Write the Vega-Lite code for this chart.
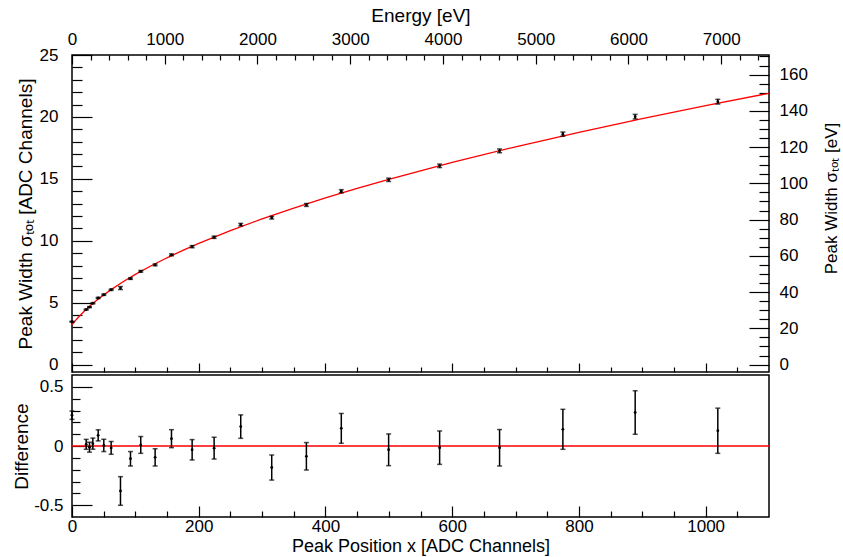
{
  "$schema": "https://vega.github.io/schema/vega-lite/v6.json",
  "padding": {"left": 11, "top": 5, "right": 0, "bottom": 1},
  "background": "white",
  "config": {
    "font": "Liberation Sans",
    "view": {"stroke": "black", "strokeWidth": 1.5},
    "axis": {
      "grid": false, "domain": false,
      "labelFont": "Liberation Sans", "titleFont": "Liberation Sans",
      "labelFontSize": 17, "titleFontSize": 19, "titleFontWeight": "normal",
      "labelColor": "black", "titleColor": "black", "tickColor": "black",
      "tickWidth": 1.2, "labelFlush": false, "labelOverlap": false
    }
  },
  "datasets": {
    "pts": [
      {"x": 0, "y": 3.46, "e": 0.035, "r": 0.26},
      {"x": 22.4, "y": 4.44, "e": 0.042, "r": 0.014},
      {"x": 27.6, "y": 4.64, "e": 0.042, "r": -0.01},
      {"x": 32.9, "y": 4.95, "e": 0.047, "r": 0.02},
      {"x": 41.3, "y": 5.38, "e": 0.047, "r": 0.09},
      {"x": 50.2, "y": 5.64, "e": 0.052, "r": 0.005},
      {"x": 61.8, "y": 6.04, "e": 0.054, "r": -0.016},
      {"x": 76.5, "y": 6.18, "e": 0.121, "r": -0.38},
      {"x": 92.3, "y": 6.94, "e": 0.061, "r": -0.108},
      {"x": 108.5, "y": 7.53, "e": 0.071, "r": 0.009},
      {"x": 131.2, "y": 8.05, "e": 0.073, "r": -0.096},
      {"x": 157, "y": 8.86, "e": 0.076, "r": 0.062},
      {"x": 189.6, "y": 9.52, "e": 0.086, "r": -0.032},
      {"x": 224.3, "y": 10.28, "e": 0.092, "r": -0.018},
      {"x": 266.3, "y": 11.30, "e": 0.099, "r": 0.164},
      {"x": 315.2, "y": 11.86, "e": 0.106, "r": -0.182},
      {"x": 369.9, "y": 12.89, "e": 0.116, "r": -0.087},
      {"x": 425, "y": 14.00, "e": 0.126, "r": 0.149},
      {"x": 499.7, "y": 14.92, "e": 0.134, "r": -0.032},
      {"x": 580.2, "y": 16.05, "e": 0.141, "r": -0.014},
      {"x": 674.8, "y": 17.26, "e": 0.154, "r": -0.015},
      {"x": 774.7, "y": 18.61, "e": 0.169, "r": 0.141},
      {"x": 888.8, "y": 20.02, "e": 0.184, "r": 0.283},
      {"x": 1019.2, "y": 21.23, "e": 0.191, "r": 0.129}
    ],
    "fit": [
      {"x": 0, "f": 3.209}, {"x": 5, "f": 3.526}, {"x": 10, "f": 3.817},
      {"x": 20, "f": 4.341}, {"x": 30, "f": 4.807}, {"x": 40, "f": 5.233},
      {"x": 50, "f": 5.626}, {"x": 60, "f": 5.993}, {"x": 80, "f": 6.668},
      {"x": 100, "f": 7.280}, {"x": 125, "f": 7.980}, {"x": 150, "f": 8.623},
      {"x": 175, "f": 9.221}, {"x": 200, "f": 9.783}, {"x": 250, "f": 10.819},
      {"x": 300, "f": 11.764}, {"x": 350, "f": 12.639}, {"x": 400, "f": 13.457},
      {"x": 450, "f": 14.228}, {"x": 500, "f": 14.960}, {"x": 600, "f": 16.325},
      {"x": 700, "f": 17.584}, {"x": 800, "f": 18.759}, {"x": 900, "f": 19.865},
      {"x": 1000, "f": 20.912}, {"x": 1100, "f": 21.909}
    ],
    "ev": [{"E": 0, "W": 0}],
    "zero": [{"z": 0}]
  },
  "spacing": 0,
  "vconcat": [
    {
      "width": 697,
      "height": 317,
      "resolve": {"scale": {"x": "independent", "y": "independent"}},
      "layer": [
        {
          "data": {"name": "fit"},
          "mark": {"type": "line", "color": "#ff0000", "strokeWidth": 1.3, "clip": true},
          "encoding": {
            "x": {"field": "x", "type": "quantitative", "scale": {"domain": [0, 1100], "nice": false, "zero": false},
                  "axis": {"orient": "bottom", "labels": false, "title": null, "values": [0, 200, 400, 600, 800, 1000], "tickSize": -9}},
            "y": {"field": "f", "type": "quantitative", "scale": {"domain": [-0.6, 25], "nice": false, "zero": false},
                  "axis": {"orient": "left", "ticks": false, "values": [0, 5, 10, 15, 20, 25], "format": "d", "labelPadding": 14,
                           "title": "Peak Width σₜₒₜ [ADC Channels]", "titlePadding": 4}}
          }
        },
        {
          "data": {"name": "pts"},
          "mark": {"type": "errorbar", "ticks": {"size": 5}, "color": "black", "thickness": 1.5},
          "encoding": {
            "x": {"field": "x", "type": "quantitative", "scale": {"domain": [0, 1100], "nice": false, "zero": false},
                  "axis": {"orient": "bottom", "labels": false, "title": null, "values": [50, 100, 150, 250, 300, 350, 450, 500, 550, 650, 700, 750, 850, 900, 950, 1050], "tickSize": -5}},
            "y": {"field": "y", "type": "quantitative", "scale": {"domain": [-0.6, 25], "nice": false, "zero": false},
                  "axis": {"orient": "left", "labels": false, "title": null, "values": [0, 5, 10, 15, 20, 25], "tickSize": -20}},
            "yError": {"field": "e"}
          }
        },
        {
          "data": {"name": "pts"},
          "mark": {"type": "point", "filled": true, "size": 8, "color": "black", "opacity": 1},
          "encoding": {
            "x": {"field": "x", "type": "quantitative", "scale": {"domain": [0, 1100], "nice": false, "zero": false}, "axis": null},
            "y": {"field": "y", "type": "quantitative", "scale": {"domain": [-0.6, 25], "nice": false, "zero": false},
                  "axis": {"orient": "left", "labels": false, "title": null, "values": [1, 2, 3, 4, 6, 7, 8, 9, 11, 12, 13, 14, 16, 17, 18, 19, 21, 22, 23, 24], "tickSize": -10}}
          }
        },
        {
          "data": {"name": "ev"},
          "mark": {"type": "point", "opacity": 0},
          "encoding": {
            "x": {"field": "E", "type": "quantitative", "scale": {"domain": [0, 7515], "nice": false, "zero": false},
                  "axis": {"orient": "top", "ticks": false, "values": [0, 1000, 2000, 3000, 4000, 5000, 6000, 7000], "format": "d", "labelPadding": 7,
                           "title": "Energy [eV]", "titlePadding": 5}},
            "y": {"field": "W", "type": "quantitative", "scale": {"domain": [-4.1, 170.8], "nice": false, "zero": false},
                  "axis": {"orient": "right", "ticks": false, "values": [0, 20, 40, 60, 80, 100, 120, 140, 160], "format": "d", "labelPadding": 10,
                           "title": "Peak Width σₜₒₜ [eV]", "titleAngle": 270, "titleBaseline": "top", "titleFontSize": 17, "titleY": 143, "titlePadding": 16}}
          }
        },
        {
          "data": {"name": "ev"},
          "mark": {"type": "point", "opacity": 0},
          "encoding": {
            "x": {"field": "E", "type": "quantitative", "scale": {"domain": [0, 7515], "nice": false, "zero": false},
                  "axis": {"orient": "top", "labels": false, "title": null, "values": [0, 1000, 2000, 3000, 4000, 5000, 6000, 7000], "tickSize": -9}},
            "y": {"field": "W", "type": "quantitative", "scale": {"domain": [-4.1, 170.8], "nice": false, "zero": false},
                  "axis": {"orient": "right", "labels": false, "title": null, "values": [0, 20, 40, 60, 80, 100, 120, 140, 160], "tickSize": -20}}
          }
        },
        {
          "data": {"name": "ev"},
          "mark": {"type": "point", "opacity": 0},
          "encoding": {
            "x": {"field": "E", "type": "quantitative", "scale": {"domain": [0, 7515], "nice": false, "zero": false},
                  "axis": {"orient": "top", "labels": false, "title": null, "values": [200, 400, 600, 800, 1200, 1400, 1600, 1800, 2200, 2400, 2600, 2800, 3200, 3400, 3600, 3800, 4200, 4400, 4600, 4800, 5200, 5400, 5600, 5800, 6200, 6400, 6600, 6800, 7200, 7400], "tickSize": -5}},
            "y": {"field": "W", "type": "quantitative", "scale": {"domain": [-4.1, 170.8], "nice": false, "zero": false},
                  "axis": {"orient": "right", "labels": false, "title": null, "values": [5, 10, 15, 25, 30, 35, 45, 50, 55, 65, 70, 75, 85, 90, 95, 105, 110, 115, 125, 130, 135, 145, 150, 155, 165, 170], "tickSize": -10}}
          }
        }
      ]
    },
    {
      "width": 697,
      "height": 142,
      "resolve": {"scale": {"x": "independent", "y": "independent"}},
      "layer": [
        {
          "data": {"name": "zero"},
          "mark": {"type": "rule", "color": "#ff0000", "strokeWidth": 1.3},
          "encoding": {
            "y": {"field": "z", "type": "quantitative", "scale": {"domain": [-0.6, 0.6], "nice": false, "zero": false}, "axis": null}
          }
        },
        {
          "data": {"name": "pts"},
          "mark": {"type": "errorbar", "ticks": {"size": 5}, "color": "black", "thickness": 1.5},
          "encoding": {
            "x": {"field": "x", "type": "quantitative", "scale": {"domain": [0, 1100], "nice": false, "zero": false},
                  "axis": {"orient": "bottom", "ticks": false, "values": [0, 200, 400, 600, 800, 1000], "format": "d", "labelPadding": 1,
                           "title": "Peak Position x [ADC Channels]", "titleFontSize": 18, "titlePadding": 3}},
            "y": {"field": "r", "type": "quantitative", "scale": {"domain": [-0.6, 0.6], "nice": false, "zero": false},
                  "axis": {"orient": "left", "ticks": false, "values": [-0.5, 0, 0.5], "labelPadding": 9,
                           "labelExpr": "datum.value == 0 ? '0' : (datum.value < 0 ? '-0.5' : '0.5')",
                           "title": "Difference", "titlePadding": 2}},
            "yError": {"field": "e"}
          }
        },
        {
          "data": {"name": "pts"},
          "mark": {"type": "point", "filled": true, "size": 8, "color": "black", "opacity": 1},
          "encoding": {
            "x": {"field": "x", "type": "quantitative", "scale": {"domain": [0, 1100], "nice": false, "zero": false},
                  "axis": {"orient": "bottom", "labels": false, "title": null, "values": [0, 200, 400, 600, 800, 1000], "tickSize": -11}},
            "y": {"field": "r", "type": "quantitative", "scale": {"domain": [-0.6, 0.6], "nice": false, "zero": false},
                  "axis": {"orient": "left", "labels": false, "title": null, "values": [-0.5, 0, 0.5], "tickSize": -20}}
          }
        },
        {
          "data": {"name": "pts"},
          "mark": {"type": "point", "opacity": 0},
          "encoding": {
            "x": {"field": "x", "type": "quantitative", "scale": {"domain": [0, 1100], "nice": false, "zero": false},
                  "axis": {"orient": "bottom", "labels": false, "title": null, "values": [50, 100, 150, 250, 300, 350, 450, 500, 550, 650, 700, 750, 850, 900, 950, 1050], "tickSize": -6}},
            "y": {"field": "r", "type": "quantitative", "scale": {"domain": [-0.6, 0.6], "nice": false, "zero": false},
                  "axis": {"orient": "left", "labels": false, "title": null, "values": [-0.4, -0.3, -0.2, -0.1, 0.1, 0.2, 0.3, 0.4], "tickSize": -8}}
          }
        }
      ]
    }
  ]
}
